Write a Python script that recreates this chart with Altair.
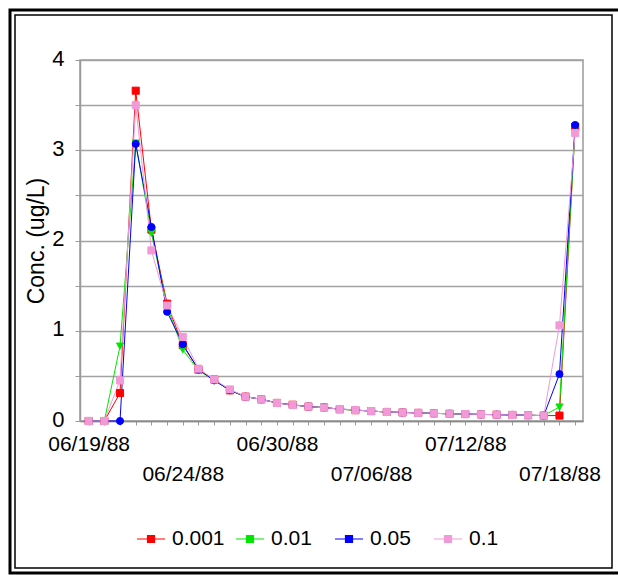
import altair as alt
import pandas as pd

# ---------------- data ----------------
idx = list(range(32))  # sample number along the category axis
series_names = ["0.001", "0.01", "0.05", "0.1"]

s_0001 = [0, 0, 0.31, 3.66, 2.12, 1.30, 0.84, 0.57, 0.46, 0.34, 0.27, 0.24, 0.20, 0.18, 0.16, 0.15,
          0.13, 0.12, 0.11, 0.10, 0.095, 0.09, 0.085, 0.08, 0.077, 0.073, 0.07, 0.067, 0.064, 0.06, 0.06, 3.26]
s_001 = [0, 0, 0.83, 3.08, 2.08, 1.27, 0.79, 0.56, 0.45, 0.34, 0.27, 0.24, 0.20, 0.18, 0.16, 0.15,
         0.13, 0.12, 0.11, 0.10, 0.095, 0.09, 0.085, 0.08, 0.077, 0.073, 0.07, 0.067, 0.064, 0.06, 0.155, 3.25]
s_005 = [0, 0, 0, 3.07, 2.15, 1.21, 0.85, 0.57, 0.45, 0.34, 0.27, 0.24, 0.20, 0.177, 0.16, 0.147,
         0.133, 0.122, 0.11, 0.10, 0.095, 0.09, 0.085, 0.08, 0.077, 0.073, 0.07, 0.067, 0.064, 0.06, 0.52, 3.28]
s_01 = [0, 0, 0.45, 3.50, 1.89, 1.28, 0.93, 0.58, 0.46, 0.35, 0.27, 0.24, 0.20, 0.177, 0.16, 0.147,
        0.133, 0.122, 0.11, 0.10, 0.095, 0.09, 0.085, 0.08, 0.077, 0.073, 0.07, 0.067, 0.064, 0.06, 1.06, 3.19]

label_idx = [0, 6, 12, 18, 24, 30]
label_text = ["06/19/88", "06/24/88", "06/30/88", "07/06/88", "07/12/88", "07/18/88"]
y_ticks = [0, 0.5, 1, 1.5, 2, 2.5, 3, 3.5, 4]

colors = ["#ff0000", "#00e600", "#0000ff", "#f29ad8"]
shapes = ["square", "triangle-down", "circle", "square"]

rows = []
for k, (name, vals) in enumerate(zip(series_names, [s_0001, s_001, s_005, s_01])):
    for i, v in zip(idx, vals):
        rows.append({"i": i, "conc": v, "series": name, "k": k})
df = pd.DataFrame(rows)

# ---------------- axis label expression ----------------
lab = dict(zip(label_idx, label_text))
arr = "[" + ",".join("'" + lab.get(i, "") + "'" for i in idx) + "]"
x_label_expr = f"(datum.value / 6) % 2 == 1 ? ['', {arr}[datum.value]] : {arr}[datum.value]"

FONT = "Liberation Sans"

x_enc = alt.X(
    "i:Q",
    scale=alt.Scale(domain=[-0.55, 31.5], nice=False, zero=False),
    axis=alt.Axis(
        values=idx, labelExpr=x_label_expr, title=None, grid=False,
        tickSize=4, tickColor="#9a9a9a", domainColor="#8a8a8a", domainWidth=1.5,
        labelFontSize=21, labelFont=FONT, labelColor="black", labelPadding=8,
        labelLineHeight=30, labelOverlap=False, labelFlush=False,
        labelBaseline="top",
    ),
)
y_enc = alt.Y(
    "conc:Q",
    scale=alt.Scale(domain=[0, 4], nice=False),
    axis=alt.Axis(
        values=y_ticks, labelExpr="datum.value % 1 == 0 ? format(datum.value, 'd') : ''",
        title="Conc. (ug/L)", titleFontSize=23, titleFont=FONT, titleFontWeight="normal",
        titleColor="black", titlePadding=3,
        grid=True, gridColor="#a3a3a3", gridWidth=1.5,
        tickSize=5, tickColor="#9a9a9a", domainColor="#9a9a9a", domainWidth=1.5,
        labelFontSize=22, labelFont=FONT, labelColor="black", labelPadding=11,
        labelOffset=-2,
    ),
)

sc = alt.Scale(domain=series_names, range=colors)
LEG_PATH = "M-1,0H1M-0.25,-0.25H0.25V0.25H-0.25Z"
legend = alt.Legend(
    orient="none", legendX=56, legendY=464, direction="horizontal", columns=4,
    gridAlign="all", title=None, symbolType=LEG_PATH, symbolSize=784,
    symbolStrokeWidth=1.2, labelFontSize=21, labelFont=FONT, labelColor="black",
    labelOffset=6, columnPadding=8,
)

lines = alt.Chart(df).mark_line(strokeWidth=1).encode(
    x=x_enc, y=y_enc,
    stroke=alt.Stroke("series:N", scale=sc, sort=series_names, legend=legend),
    order="i:Q",
)

point_layers = []
for name, shp in zip(series_names, shapes):
    point_layers.append(
        alt.Chart(df).transform_filter(alt.datum.series == name)
        .mark_point(filled=True, size=50, strokeWidth=1, opacity=1, shape=shp)
        .encode(
            x=x_enc, y=y_enc,
            fill=alt.Fill("series:N", scale=sc, sort=series_names, legend=legend),
            stroke=alt.Stroke("series:N", scale=sc, sort=series_names, legend=legend),
        )
    )

frame_data = alt.Data(values=[{"f": 1}])
frame_outer = alt.Chart(frame_data).mark_rect(fillOpacity=0, stroke="black", strokeWidth=3).encode(
    x=alt.value(-70), x2=alt.value(560), y=alt.value(-50), y2=alt.value(513))
frame_inner = alt.Chart(frame_data).mark_rect(fillOpacity=0, stroke="black", strokeWidth=1.5).encode(
    x=alt.value(-65), x2=alt.value(532), y=alt.value(-45), y2=alt.value(508))

chart = alt.layer(frame_outer, frame_inner, lines, *point_layers).properties(
    width=503, height=361,
    padding={"left": 80, "top": 60, "right": 35, "bottom": 154},
    autosize=alt.AutoSizeParams(type="none"),
    background="white",
).configure_view(stroke="#9a9a9a", strokeWidth=1.5)

chart.save("out.html", embed_options={"renderer": "svg", "actions": False})
